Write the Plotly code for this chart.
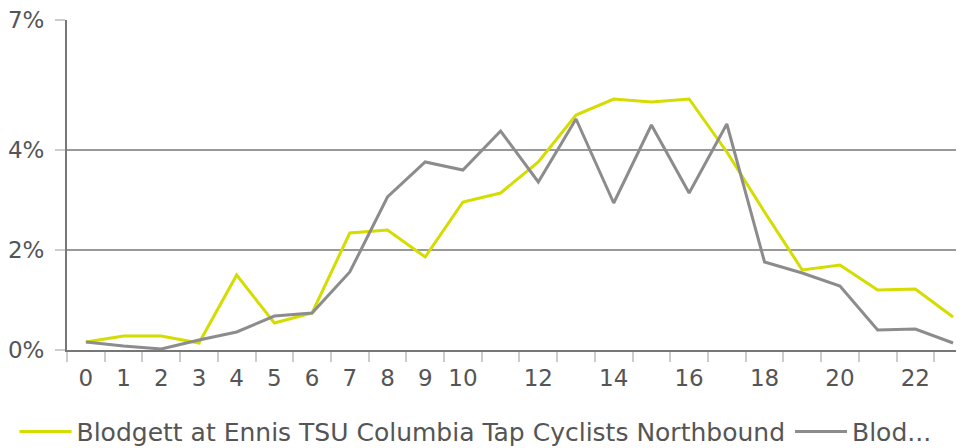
import plotly.graph_objects as go

hours = list(range(24))
northbound = [0.16, 0.28, 0.28, 0.14, 1.50, 0.54, 0.74, 2.34, 2.40, 1.86,
              2.96, 3.14, 3.76, 4.70, 5.02, 4.96, 5.02, 3.96, 2.76, 1.60,
              1.70, 1.20, 1.22, 0.66]
second = [0.16, 0.08, 0.02, 0.20, 0.36, 0.68, 0.74, 1.56, 3.06, 3.76,
          3.60, 4.38, 3.36, 4.62, 2.94, 4.50, 3.14, 4.52, 1.76, 1.54,
          1.28, 0.40, 0.42, 0.14]
x_tick_vals = [0, 1, 2, 3, 4, 5, 6, 7, 8, 9, 10, 12, 14, 16, 18, 20, 22]
y_tick_vals = [0, 2, 4, 6.595]
y_tick_text = ["0%", "2%", "4%", "7%"]
name1 = "Blodgett at Ennis TSU Columbia Tap Cyclists Northbound"
name2 = "Blod..."

FONT = "DejaVu Sans"

fig = go.Figure()
fig.add_trace(go.Scatter(x=hours, y=northbound, mode="lines", name=name1,
                         line=dict(color="#d4dc00", width=3)))
fig.add_trace(go.Scatter(x=hours, y=second, mode="lines", name=name2,
                         line=dict(color="#8c8c8c", width=3)))

fig.update_layout(
    width=956, height=440,
    margin=dict(l=59, r=0, t=12, b=98, autoexpand=False),
    paper_bgcolor="white", plot_bgcolor="white",
    font=dict(family=FONT, color="#555555", size=23),
    showlegend=True,
    legend=dict(orientation="h", x=-0.0585, xanchor="left", y=-0.248, yanchor="middle",
                font=dict(size=25, color="#555555"), itemwidth=52,
                traceorder="normal"),
    xaxis=dict(range=[-0.5, 23.29], tickvals=x_tick_vals,
               ticktext=[str(v) for v in x_tick_vals], automargin=False,
               ticks="", showgrid=False, zeroline=False,
               showline=True, linecolor="#777777", linewidth=2,
               ticklabelstandoff=6, ticklabeloverflow="allow",
               tickfont=dict(size=23, color="#555555"),
               minor=dict(tick0=-0.5, dtick=1, ticks="outside", ticklen=10,
                          tickcolor="#cccccc", tickwidth=2, showgrid=False)),
    yaxis=dict(range=[0, 6.6], tickvals=y_tick_vals, ticktext=y_tick_text,
               automargin=False, ticklabelstandoff=6, ticklabeloverflow="allow",
               ticks="outside", ticklen=10, tickcolor="#cccccc", tickwidth=2,
               showgrid=True, gridcolor="#999999", gridwidth=2,
               zeroline=False, showline=True, linecolor="#777777", linewidth=2,
               tickfont=dict(size=23, color="#555555")),
)

fig.write_html("out.html")
